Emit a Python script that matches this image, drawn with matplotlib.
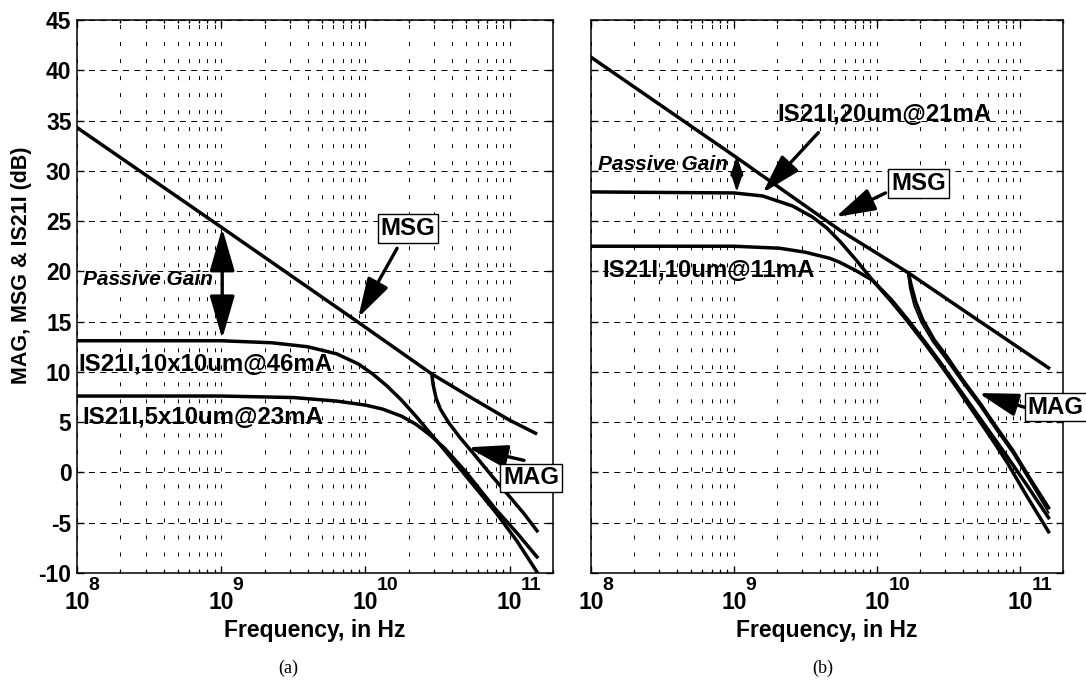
import numpy as np
import matplotlib
matplotlib.use('Agg')
import matplotlib.pyplot as plt
from matplotlib.ticker import FixedLocator, LogLocator, NullFormatter, MultipleLocator
import matplotlib.transforms as mtrans

plt.rcParams.update({
    'font.family': ['Liberation Sans', 'DejaVu Sans'],
    'font.weight': 'bold',
    'axes.unicode_minus': False,
})

# ---------------- data: panel (a) ----------------  (log10 frequency, dB)
a_msg_exp = [8.0, 9.0, 9.944, 10.46, 10.75, 11.0, 11.18]
a_msg_db = [34.3, 24.4, 15.0, 9.8, 7.3, 5.2, 3.9]

a_mag_exp = [10.46, 10.47, 10.49, 10.52, 10.58, 10.66, 10.76, 10.88, 11.0, 11.1, 11.19]
a_mag_db = [9.8, 8.7, 7.4, 6.3, 4.9, 3.4, 1.7, -0.4, -2.4, -4.1, -5.8]

a_s21_big_exp = [8.0, 9.0, 9.35, 9.6, 9.8, 9.95, 10.05, 10.15, 10.25, 10.35, 10.45, 10.55, 10.7, 10.9, 11.05, 11.19]
a_s21_big_db = [13.1, 13.1, 12.9, 12.5, 11.8, 10.8, 9.8, 8.6, 7.2, 5.6, 3.9, 2.2, -0.4, -3.9, -6.8, -9.9]

a_s21_small_exp = [8.0, 9.0, 9.5, 9.8, 10.0, 10.12, 10.25, 10.35, 10.45, 10.55, 10.7, 10.9, 11.05, 11.19]
a_s21_small_db = [7.6, 7.6, 7.45, 7.1, 6.7, 6.3, 5.6, 4.8, 3.7, 2.4, 0.0, -3.6, -6.0, -8.4]

# ---------------- data: panel (b) ----------------
b_msg_exp = [8.0, 9.0, 9.74, 10.22, 10.67, 11.2]
b_msg_db = [41.3, 31.5, 24.1, 19.85, 15.5, 10.4]

b_mag1_exp = [10.22, 10.24, 10.27, 10.32, 10.4, 10.49, 10.6, 10.72, 10.83, 10.95, 11.07, 11.2]
b_mag1_db = [19.85, 18.6, 17.0, 15.2, 13.2, 11.5, 9.2, 6.9, 4.6, 2.2, -0.6, -3.5]

b_mag2_exp = [10.215, 10.23, 10.26, 10.31, 10.39, 10.48, 10.6, 10.72, 10.83, 10.95, 11.07, 11.2]
b_mag2_db = [19.85, 18.3, 16.6, 14.9, 13.0, 11.3, 8.9, 6.6, 4.3, 1.9, -0.9, -4.0]

b_s21_20_exp = [8.0, 9.0, 9.2, 9.41, 9.55, 9.65, 9.74, 9.85, 9.97, 10.1, 10.21, 10.33, 10.44, 10.55, 10.67, 10.8, 10.91, 11.05, 11.2]
b_s21_20_db = [27.9, 27.8, 27.5, 26.5, 25.4, 24.3, 23.0, 21.2, 19.1, 17.0, 15.1, 12.9, 10.8, 8.6, 6.1, 3.4, 1.0, -2.4, -5.9]

b_s21_10_exp = [8.0, 9.0, 9.32, 9.5, 9.67, 9.74, 9.85, 9.97, 10.1, 10.21, 10.33, 10.44, 10.55, 10.67, 10.8, 10.91, 11.05, 11.2]
b_s21_10_db = [22.5, 22.5, 22.3, 21.9, 21.3, 20.9, 20.1, 19.1, 17.2, 15.3, 13.1, 11.0, 8.8, 6.4, 3.8, 1.6, -1.3, -4.5]

x_ticks = [1e8, 1e9, 1e10, 1e11]
x_tick_base = ['10', '10', '10', '10']
x_tick_exp = ['8', '9', '10', '11']


def f(e):
    return np.power(10.0, np.asarray(e, dtype=float))


W, H = 1086, 682
fig = plt.figure(figsize=(W / 100, H / 100), dpi=100)
axa = fig.add_axes([77 / W, 1 - 573 / H, 476 / W, 553 / H])
axb = fig.add_axes([591 / W, 1 - 573 / H, 472 / W, 553 / H])

LW = 2.5


def style(ax, ylabels):
    ax.set_xscale('log')
    ax.set_xlim(1e8, 2e11)
    ax.set_ylim(-10, 45)
    ax.yaxis.set_major_locator(MultipleLocator(5))
    ax.xaxis.set_major_locator(FixedLocator(x_ticks))
    ax.xaxis.set_minor_locator(LogLocator(base=10, subs=np.arange(2, 10)))
    ax.xaxis.set_minor_formatter(NullFormatter())
    ax.set_xticklabels(x_tick_base)
    ax.set_axisbelow(True)
    ax.grid(True, which='both', axis='x', color='k', lw=0.7, linestyle=(0, (4.1, 13.4)))
    ax.grid(True, which='major', axis='y', color='k', lw=0.7, linestyle=(0, (6.2, 5.5)))
    ax.tick_params(which='both', direction='in', top=True, right=True, width=1)
    ax.tick_params(which='major', length=5)
    ax.tick_params(which='minor', length=2.5)
    ax.tick_params(axis='y', labelsize=16.5, pad=4)
    ax.tick_params(axis='x', labelsize=16.5, pad=13)
    if not ylabels:
        ax.tick_params(axis='y', labelleft=False)
    for s in ax.spines.values():
        s.set_linewidth(1.1)
    # exponents of the decade labels
    tr = ax.get_xaxis_transform() + mtrans.ScaledTranslation(11.5 / 100, -12 / 100, fig.dpi_scale_trans)
    for xv, ex in zip(x_ticks, x_tick_exp):
        ax.text(xv, 0, ex, transform=tr, fontsize=14, fontweight='bold',
                ha='left', va='center', clip_on=False)
    ax.set_xlabel('Frequency, in Hz', fontsize=16.5, fontweight='bold')
    ax.xaxis.set_label_coords(0.5, (573 - 630) / 553)
    ax.xaxis.label.set_va('center')


style(axa, True)
style(axb, False)

axa.set_ylabel('MAG, MSG & IS21I (dB)', fontsize=15.5, fontweight='bold')
axa.yaxis.set_label_coords((22 - 77) / 476, (573 - 265) / 553)
axa.yaxis.label.set_va('center')

# ---- panel (a) curves
axa.plot(f(a_msg_exp), a_msg_db, color='k', lw=LW)
axa.plot(f(a_mag_exp), a_mag_db, color='k', lw=LW)
axa.plot(f(a_s21_big_exp), a_s21_big_db, color='k', lw=LW)
axa.plot(f(a_s21_small_exp), a_s21_small_db, color='k', lw=LW)

# ---- panel (b) curves
axb.plot(f(b_msg_exp), b_msg_db, color='k', lw=LW)
axb.plot(f(b_s21_20_exp), b_s21_20_db, color='k', lw=LW)
axb.plot(f(b_s21_10_exp), b_s21_10_db, color='k', lw=LW)
axb.plot(f(b_mag1_exp), b_mag1_db, color='k', lw=LW)
axb.plot(f(b_mag2_exp), b_mag2_db, color='k', lw=1.3)

box = dict(boxstyle='square,pad=0.12', facecolor='white', edgecolor='k', lw=1.0)


def arrow(ax, tail, head, ms=22, style='-|>,head_length=1.1,head_width=0.32', lw=2.4):
    ax.annotate('', xy=(10 ** head[0], head[1]), xytext=(10 ** tail[0], tail[1]),
                arrowprops=dict(arrowstyle=style, lw=lw, color='k', mutation_scale=ms,
                                shrinkA=0, shrinkB=0), annotation_clip=False)


TS = 17.3
# ---- panel (a) annotations
axa.text(10 ** 8.04, 19.2, 'Passive Gain', fontsize=15, fontweight='bold', style='italic',
         ha='left', va='center')
arrow(axa, (9.007, 18.7), (9.007, 24.3), ms=24)
arrow(axa, (9.007, 18.7), (9.007, 13.3), ms=24)
axa.text(10 ** 8.007, 10.7, 'IS21I,10x10um@46mA', fontsize=TS, fontweight='bold',
         ha='left', va='center')
axa.text(10 ** 8.035, 5.5, 'IS21I,5x10um@23mA', fontsize=TS, fontweight='bold',
         ha='left', va='center')
axa.text(10 ** 10.294, 24.3, 'MSG', fontsize=TS, fontweight='bold', ha='center', va='center',
         bbox=box)
arrow(axa, (10.22, 22.3), (9.95, 15.4))
axa.text(10 ** 11.15, -0.55, 'MAG', fontsize=TS, fontweight='bold', ha='center', va='center',
         bbox=box, clip_on=False, zorder=5)
arrow(axa, (11.10, 1.2), (10.71, 2.5))

# ---- panel (b) annotations
axb.text(10 ** 8.05, 30.6, 'Passive Gain', fontsize=15, fontweight='bold', style='italic',
         ha='left', va='center')
arrow(axb, (9.02, 29.7), (9.02, 31.5), ms=13, lw=1.6, style='-|>,head_length=0.9,head_width=0.3')
arrow(axb, (9.02, 29.7), (9.02, 27.9), ms=13, lw=1.6, style='-|>,head_length=0.9,head_width=0.3')
axb.text(10 ** 9.30, 35.6, 'IS21I,20um@21mA', fontsize=TS, fontweight='bold',
         ha='left', va='center')
arrow(axb, (9.59, 33.8), (9.20, 27.8))
axb.text(10 ** 8.08, 20.1, 'IS21I,10um@11mA', fontsize=TS, fontweight='bold',
         ha='left', va='center')
axb.text(10 ** 10.29, 28.75, 'MSG', fontsize=TS, fontweight='bold', ha='center', va='center',
         bbox=box)
arrow(axb, (10.06, 27.8), (9.71, 25.4))
axb.text(10 ** 11.25, 6.5, 'MAG', fontsize=TS, fontweight='bold', ha='center', va='center',
         bbox=box, clip_on=False, zorder=5)
arrow(axb, (11.05, 6.4), (10.71, 7.9))

# captions
fig.text(288 / W, 1 - 668 / H, '(a)', family=['Liberation Serif', 'DejaVu Serif'],
         fontweight='normal', fontsize=13, ha='center', va='center')
fig.text(823 / W, 1 - 668 / H, '(b)', family=['Liberation Serif', 'DejaVu Serif'],
         fontweight='normal', fontsize=13, ha='center', va='center')

fig.savefig('out.png', dpi=100)
